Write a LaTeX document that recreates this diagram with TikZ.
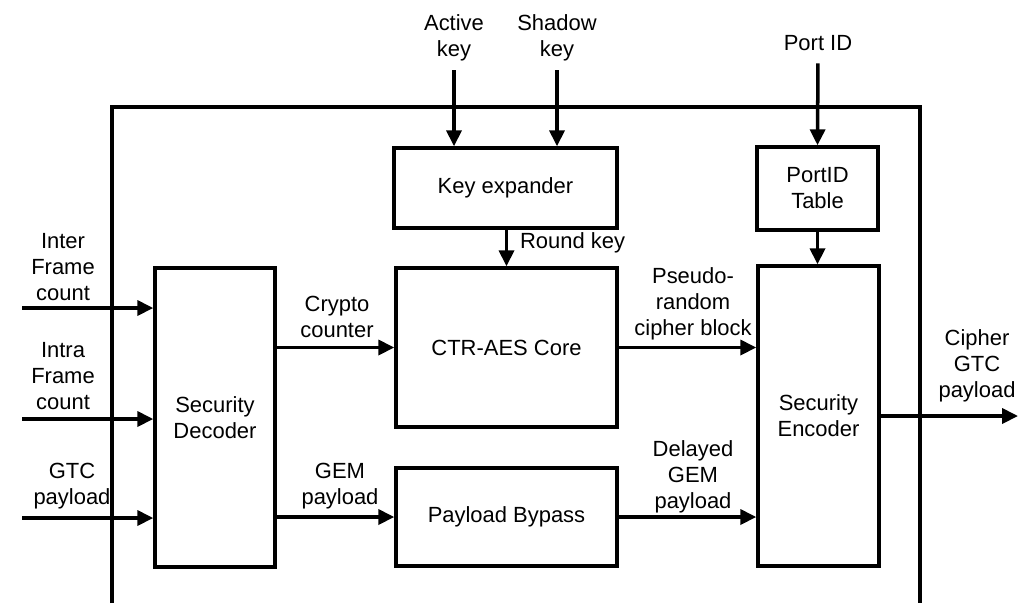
\documentclass[tikz,border=0pt]{standalone}
\usepackage{fontspec}
\setmainfont{Liberation Sans}
\usetikzlibrary{arrows.meta}

\begin{document}
\begin{tikzpicture}[%
      x=0.02cm, y=-0.02cm,
      block/.style={draw, line width=2pt, inner sep=0pt, align=center},
      lbl/.style={align=center, inner sep=1pt},
      sig/.style={line width=2pt, -{Triangle[length=9pt,width=8.5pt]}},
      font=\fontsize{12.5}{14.8}\selectfont,
      ]
      \useasboundingbox (0,0) rectangle (1020,603);
      \draw [line width=2pt] (112,603) -- (112,107) -- (920,107) -- (920,603);

      \node [block, minimum width=2.4cm, minimum height=5.98cm] (decoder) at (215,417.5) {Security\\Decoder};
      \node [block, minimum width=4.46cm, minimum height=1.6cm] (keyexp) at (505.5,188) {Key expander};
      \node [block, minimum width=4.42cm, minimum height=3.18cm] (ctr) at (506.5,347.5) {CTR-AES Core};
      \node [block, minimum width=4.42cm, minimum height=1.96cm] (bypass) at (506.5,517) {Payload Bypass};
      \node [block, minimum width=2.42cm, minimum height=1.66cm] (porttab) at (817.5,188.5) {PortID\\Table};
      \node [block, minimum width=2.42cm, minimum height=6.0cm] (encoder) at (818.5,416) {Security\\Encoder};

      \node [lbl] (activekey) at (454,38) {Active\\key};
      \node [lbl] (shadowkey) at (557,38) {Shadow\\key};
      \node [lbl] (portid) at (818,43) {Port ID};
      \node [lbl] (interlbl) at (63,267) {Inter\\Frame\\count};
      \node [lbl] (intralbl) at (63,376) {Intra\\Frame\\count};
      \node [lbl] (gtclbl) at (72,486) {GTC\\payload};
      \node [lbl] (cryptolbl) at (337,317) {Crypto\\counter};
      \node [lbl] (gemlbl) at (340,486) {GEM\\payload};
      \node [lbl, anchor=west] (roundlbl) at (518,243) {Round key};
      \node [lbl] (pseudolbl) at (693,304) {Pseudo-\\random\\cipher block};
      \node [lbl] (delayedlbl) at (693,477) {Delayed\\GEM\\payload};
      \node [lbl] (cipherlbl) at (977,366) {Cipher\\GTC\\payload};

      \coordinate (inter) at (22,308);
      \coordinate (intra) at (22,419);
      \coordinate (gtcin) at (22,518);
      \coordinate (out) at (1018,416);

      \draw [sig] (inter) -- (decoder.west |- inter);
      \draw [sig] (intra) -- (decoder.west |- intra);
      \draw [sig] (gtcin) -- (decoder.west |- gtcin);
      \draw [sig] (decoder.east |- ctr) -- (ctr.west);
      \draw [sig] (decoder.east |- bypass) -- (bypass.west);
      \draw [sig] (ctr.east) -- (encoder.west |- ctr.east);
      \draw [sig] (bypass.east) -- (encoder.west |- bypass.east);
      \draw [sig] (encoder.east) -- (out);
      \draw [sig, shorten <=4pt] (activekey.south) -- (keyexp.north -| activekey.south);
      \draw [sig, shorten <=4pt] (shadowkey.south) -- (keyexp.north -| shadowkey.south);
      \draw [sig] (keyexp.south -| ctr.north) -- (ctr.north);
      \draw [sig, shorten <=6pt] (portid.south) -- (porttab.north);
      \draw [sig] (porttab.south) -- (encoder.north -| porttab.south);
\end{tikzpicture}
\end{document}
